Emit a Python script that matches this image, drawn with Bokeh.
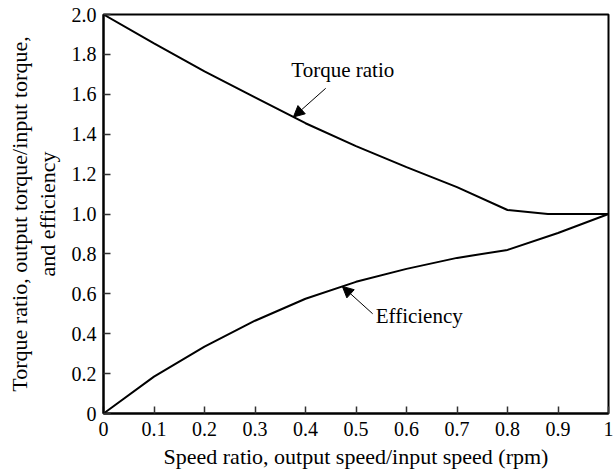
import numpy as np
from bokeh.plotting import figure
from bokeh.models import Arrow, NormalHead, Label, FixedTicker, Range1d, LinearAxis
from bokeh.embed import file_html
from bokeh.resources import INLINE

# Data
speed_ratio = [0.0, 0.1, 0.2, 0.3, 0.4, 0.5, 0.6, 0.7, 0.8, 0.88, 1.0]
torque_ratio = [2.0, 1.855, 1.715, 1.585, 1.455, 1.34, 1.235, 1.135, 1.02, 1.0, 1.0]

eff_speed = [0.0, 0.1, 0.2, 0.3, 0.4, 0.5, 0.6, 0.7, 0.8, 0.9, 1.0]
efficiency = [0.0, 0.185, 0.335, 0.465, 0.575, 0.66, 0.725, 0.78, 0.82, 0.905, 1.0]

x_ticks = [0, 0.1, 0.2, 0.3, 0.4, 0.5, 0.6, 0.7, 0.8, 0.9, 1.0]
x_tick_labels = ["0", "0.1", "0.2", "0.3", "0.4", "0.5", "0.6", "0.7", "0.8", "0.9", "1"]
y_ticks = [0, 0.2, 0.4, 0.6, 0.8, 1.0, 1.2, 1.4, 1.6, 1.8, 2.0]
y_tick_labels = ["0", "0.2", "0.4", "0.6", "0.8", "1.0", "1.2", "1.4", "1.6", "1.8", "2.0"]

x_title = "Speed ratio, output speed/input speed (rpm)"
y_title_line1 = "Torque ratio, output torque/input torque,"
y_title_line2 = "and efficiency"

# annotation anchors (data space)
torque_label = "Torque ratio"
torque_arrow_tip_x = 0.376
torque_arrow_tail = (0.44, 1.63)
torque_text_pos = (0.372, 1.72)

eff_label = "Efficiency"
eff_arrow_tip_x = 0.473
eff_arrow_tail = (0.533, 0.50)
eff_text_pos = (0.539, 0.49)

FONT = "Liberation Serif"

p = figure(width=616, height=475, output_backend="svg", toolbar_location=None,
           x_range=Range1d(0, 1), y_range=Range1d(0, 2),
           min_border_left=103, min_border_top=14, min_border_right=8, min_border_bottom=62)

p.line(speed_ratio, torque_ratio, line_color="black", line_width=2)
p.line(eff_speed, efficiency, line_color="black", line_width=2)

p.grid.visible = False
p.outline_line_color = "black"
p.outline_line_width = 2
p.outline_line_alpha = 1

for ax in (p.xaxis[0], p.yaxis[0]):
    ax.major_tick_in = 7
    ax.major_tick_out = 0
    ax.minor_tick_line_color = None
    ax.major_tick_line_color = "#333333"
    ax.major_tick_line_width = 1.5
    ax.axis_line_color = "black"
    ax.axis_line_width = 2
    ax.major_label_text_font = FONT
    ax.major_label_text_font_size = "20px"
    ax.major_label_text_color = "black"
    ax.axis_label_text_font = FONT
    ax.axis_label_text_font_size = "22px"
    ax.axis_label_text_font_style = "normal"
    ax.axis_label_text_color = "black"

p.xaxis[0].ticker = FixedTicker(ticks=x_ticks)
p.xaxis[0].major_label_overrides = {t: l for t, l in zip(x_ticks, x_tick_labels)}
p.xaxis[0].axis_label = x_title
p.xaxis[0].major_label_standoff = 8
p.xaxis[0].axis_label_standoff = 5

# inner y-axis: ticks, tick labels and the second title line
p.yaxis[0].ticker = FixedTicker(ticks=y_ticks)
p.yaxis[0].major_label_overrides = {t: l for t, l in zip(y_ticks, y_tick_labels)}
p.yaxis[0].axis_label = y_title_line2
p.yaxis[0].major_label_standoff = 7
p.yaxis[0].axis_label_standoff = 9

# outer y-axis: only the first title line
outer = LinearAxis(ticker=FixedTicker(ticks=[]), axis_label=y_title_line1,
                   axis_line_color=None, major_tick_line_color=None,
                   minor_tick_line_color=None, major_tick_in=0, major_tick_out=0,
                   minor_tick_in=0, minor_tick_out=0, major_label_standoff=0,
                   axis_label_standoff=0, axis_label_text_font=FONT,
                   axis_label_text_font_size="22px", axis_label_text_font_style="normal",
                   axis_label_text_color="black")
p.add_layout(outer, "left")

# annotations
t_tip_y = float(np.interp(torque_arrow_tip_x, speed_ratio, torque_ratio))
p.add_layout(Arrow(end=NormalHead(size=11, fill_color="black", line_color="black"),
                   x_start=torque_arrow_tail[0], y_start=torque_arrow_tail[1],
                   x_end=torque_arrow_tip_x, y_end=t_tip_y,
                   line_color="black", line_width=1))
p.add_layout(Label(x=torque_text_pos[0], y=torque_text_pos[1], text=torque_label,
                   text_font=FONT, text_font_size="21px", text_baseline="middle",
                   text_align="left", text_color="black"))

e_tip_y = float(np.interp(eff_arrow_tip_x, eff_speed, efficiency))
p.add_layout(Arrow(end=NormalHead(size=11, fill_color="black", line_color="black"),
                   x_start=eff_arrow_tail[0], y_start=eff_arrow_tail[1],
                   x_end=eff_arrow_tip_x, y_end=e_tip_y,
                   line_color="black", line_width=1))
p.add_layout(Label(x=eff_text_pos[0], y=eff_text_pos[1], text=eff_label,
                   text_font=FONT, text_font_size="21px", text_baseline="middle",
                   text_align="left", text_color="black"))

open("out.html", "w").write(file_html(p, INLINE))
